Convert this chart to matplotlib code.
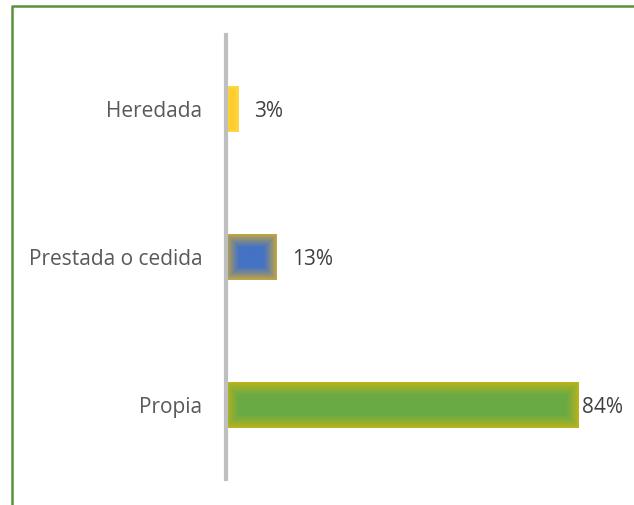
import numpy as np
import matplotlib.pyplot as plt
from matplotlib.colors import to_rgb

plt.rcParams['font.family'] = ['Open Sans', 'DejaVu Sans']

categorias = ['Propia', 'Prestada o cedida', 'Heredada']
valores = [84, 12.1, 3]
etiquetas = ['84%', '13%', '3%']
colores = ['#6AAA45', '#4472C4', '#FFC000']
bordes = ['#C2B418', '#CDAA38', '#FFD84D']

W, H = 634, 505
fig = plt.figure(figsize=(W / 100, H / 100), dpi=100)

# marco verde del gráfico (solo izquierda y arriba visibles)
fig.add_artist(plt.Line2D([12 / W, 12 / W, 1], [0, (H - 6) / H, (H - 6) / H],
                          transform=fig.transFigure, color='#5B9137', linewidth=1.8))

ax = fig.add_axes([226 / W, (H - 479) / H, (W - 226) / W, 444 / H])
y = np.arange(len(categorias))
xmax = (W - 226) / 4.2
ax.set_xlim(0, xmax)
ax.set_ylim(-0.5, 2.5)
barras = ax.barh(y, valores, height=0.31, color=colores, edgecolor='none')

# relleno con degradado suave del borde hacia el centro
fig.canvas.draw()
for b, c, e in zip(barras, colores, bordes):
    x0, y0, w, h = b.get_x(), b.get_y(), b.get_width(), b.get_height()
    (px0, py0), (px1, py1) = ax.transData.transform([(x0, y0), (x0 + w, y0 + h)])
    nw, nh = max(int(px1 - px0), 2), max(int(py1 - py0), 2)
    xx = np.minimum(np.arange(nw), np.arange(nw)[::-1]) + 0.5
    yy = np.minimum(np.arange(nh), np.arange(nh)[::-1]) + 0.5
    d = np.minimum(xx[None, :], yy[:, None])
    t = np.clip(d / 13.0, 0, 1) ** 0.8
    t = t[..., None]
    img = np.array(to_rgb(e)) * (1 - t) + np.array(to_rgb(c)) * t
    im = ax.imshow(img, extent=(x0, x0 + w, y0, y0 + h), aspect='auto',
                   interpolation='bilinear', zorder=2)
    im.set_clip_path(b)
ax.set_xlim(0, xmax)
ax.set_ylim(-0.5, 2.5)

for yi, v, t in zip(y, valores, etiquetas):
    ax.text(min(v + 3.6, xmax - 12.4), yi, t, va='center_baseline', ha='left',
            fontsize=15, color='#404040')

ax.set_yticks(y)
ax.set_yticklabels(categorias, fontsize=15, color='#595959')
ax.tick_params(axis='y', length=0, pad=17)
ax.set_xticks([])
for s in ['top', 'right', 'bottom']:
    ax.spines[s].set_visible(False)
ax.spines['left'].set_color('#BFBFBF')
ax.spines['left'].set_linewidth(3)

fig.savefig('out.png', dpi=100)
